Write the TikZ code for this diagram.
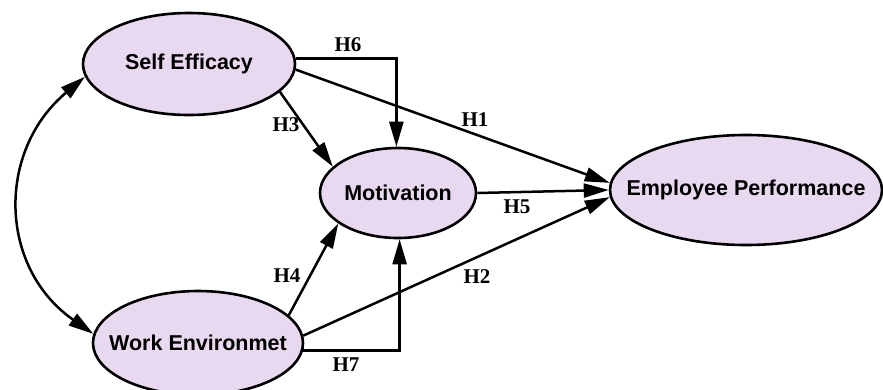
\documentclass[tikz,border=0pt]{standalone}
\usepackage{fontspec}
\usepackage{xcolor}
\usetikzlibrary{shapes.geometric,arrows.meta}
\setmainfont{Liberation Serif}
\newfontfamily\varfont{Liberation Sans}
\definecolor{varfill}{RGB}{233,217,240}

\tikzset{
  latent/.style={ellipse, draw=black, line width=2.6pt, fill=varfill, inner sep=0pt,
    font=\varfont\bfseries\fontsize{21.5}{24}\selectfont},
  path/.style={line width=2.5pt, -{Triangle[length=25pt,width=14pt]}},
  covar/.style={line width=2.5pt, {Triangle[length=25pt,width=14pt]}-{Triangle[length=25pt,width=14pt]}},
  hyp/.style={font=\bfseries\fontsize{21}{24}\selectfont, inner sep=1pt}
}

\begin{document}
\begin{tikzpicture}[x=1pt,y=-1pt]
        \useasboundingbox (0,0) rectangle (883,389);

        % the four constructs
        \node[latent, minimum width=212pt, minimum height=102pt] (se) at (189,64) {Self Efficacy};
        \node[latent, inner xsep=-15pt, minimum width=210pt, minimum height=104pt] (we) at (198,343) {Work Environmet};
        \node[latent, minimum width=156pt, minimum height=90pt] (mot) at (398,193) {Motivation};
        \node[latent, inner xsep=-24pt, minimum width=272pt, minimum height=110pt] (ep) at (746,190) {Employee Performance};

        % correlation between the two exogenous constructs
        \draw[covar] (se.187) to[out=220,in=145,looseness=1.15] (we.175);

        % direct paths
        \draw[path] (se.-3) -- (ep.177);
        \draw[path] (mot.east) -- (ep.180);
        \draw[path] (we.4) -- (ep.183);
        \draw[path] (se.-17) -- (mot.158);
        \draw[path] (we.17) -- (mot.-153);

        % mediated paths
        \draw[path] (se.3) -| (mot.92);
        \draw[path] (we.-4) -| (mot.-88);

        % hypothesis labels
        \node[hyp] (h1) at (475,120) {H1};
        \node[hyp] (h2) at (477,277) {H2};
        \node[hyp] (h3) at (286,125) {H3};
        \node[hyp] (h4) at (287,276) {H4};
        \node[hyp] (h5) at (517,207) {H5};
        \node[hyp] (h6) at (348,45) {H6};
        \node[hyp] (h7) at (346,365) {H7};
    \end{tikzpicture}
\end{document}
